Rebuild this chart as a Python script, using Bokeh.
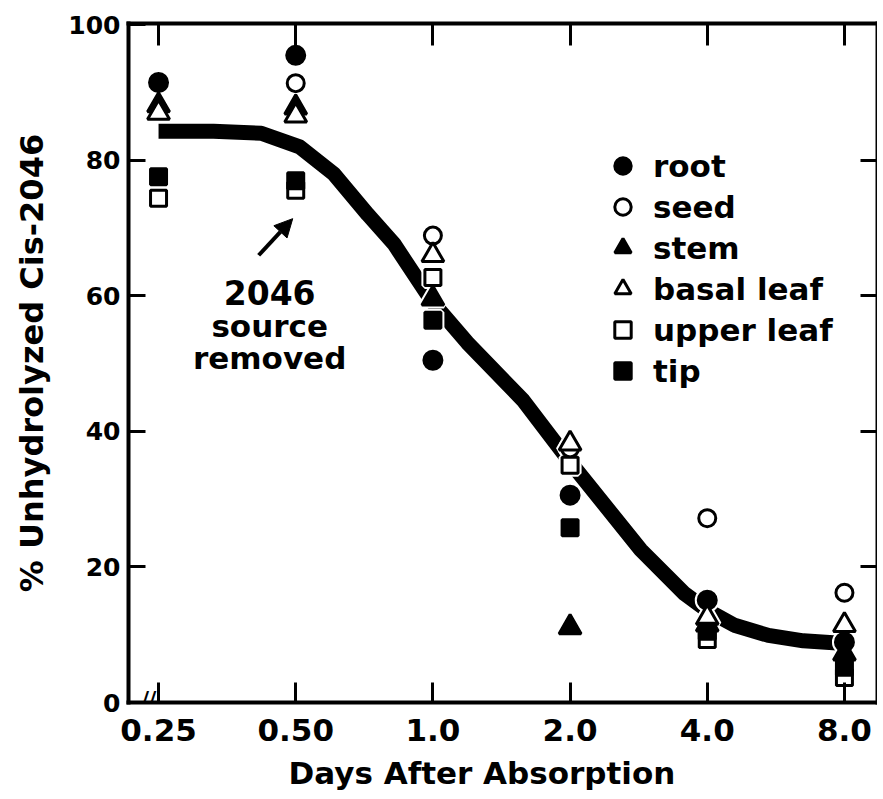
import numpy as np
from bokeh.plotting import figure
from bokeh.models import (LinearAxis, FixedTicker, Range1d, Label, Arrow,
                          NormalHead, Legend, LegendItem, Title)
from bokeh.embed import file_html
from bokeh.resources import INLINE

# ---------------- data ----------------
days = [0.25, 0.5, 1.0, 2.0, 4.0, 8.0]
day_labels = ["0.25", "0.50", "1.0", "2.0", "4.0", "8.0"]
y_ticks = [0, 20, 40, 60, 80, 100]

root = [91.5, 95.5, 50.5, 30.6, 15.1, 8.9]
seed = [np.nan, 91.4, 68.9, 37.5, 27.2, 16.2]
stem = [88.1, 87.8, 59.6, 11.1, 11.5, 7.2]
basal_leaf = [87.0, 86.6, 66.0, 38.2, 12.5, 11.4]
upper_leaf = [74.4, 75.6, 62.7, 35.0, 9.3, 3.7]
tip = [77.6, 77.0, 56.4, 25.8, 10.5, 5.2]

curve_days = [0.25, 0.33, 0.42, 0.51, 0.606, 0.72, 0.821, 1.0, 1.19, 1.577,
              2.0, 2.86, 3.56, 4.0, 4.59, 5.45, 6.5, 8.0]
curve_vals = [84.3, 84.3, 84.0, 82.0, 78.0, 72.0, 67.7, 59.0, 53.1, 44.6,
              35.5, 22.5, 16.1, 13.6, 11.4, 9.9, 9.1, 8.7]

xs = np.log2(days)
cxs = np.log2(curve_days)

FONT = "DejaVu Sans"

p = figure(frame_width=749, frame_height=679, output_backend="svg",
           toolbar_location=None,
           x_range=Range1d(-2.219, 3.241), y_range=Range1d(0, 100.2),
           min_border_left=128, min_border_right=0, min_border_top=23,
           min_border_bottom=97)
p.background_fill_color = "white"
p.border_fill_color = "white"
p.outline_line_color = None
p.xgrid.visible = False
p.ygrid.visible = False

# curve
p.line(cxs, curve_vals, line_width=15, line_color="black", line_join="round",
       line_cap="butt")

series = [
    ("root", root, "circle", 18, "black"),
    ("seed", seed, "circle", 17, "white"),
    ("stem", stem, "triangle", 22, "black"),
    ("basal leaf", basal_leaf, "triangle", 22, "white"),
    ("upper leaf", upper_leaf, "square", 16, "white"),
    ("tip", tip, "square", 16, "black"),
]

# white halos
for name, vals, m, s, fc in series:
    p.scatter(xs, vals, marker=m, size=s, fill_color="white",
              line_color="white", line_width=7)

renderers = {}
for name, vals, m, s, fc in series:
    r = p.scatter(xs, vals, marker=m, size=s, fill_color=fc,
                  line_color="black", line_width=3)
    renderers[name] = r

legend = Legend(items=[LegendItem(label=n, renderers=[renderers[n]]) for n, *_ in series],
                location=(474, 311), border_line_alpha=0, background_fill_alpha=0,
                padding=0, margin=0, spacing=0, glyph_height=41, glyph_width=41,
                label_height=41, label_standoff=10, label_text_font_size="31px",
                label_text_font=FONT, label_text_font_style="bold",
                label_text_color="black", label_text_baseline="middle")
p.add_layout(legend)

# axes
xb = p.xaxis[0]
xb.ticker = FixedTicker(ticks=list(xs))
xb.major_label_overrides = {int(v): l for v, l in zip(xs, day_labels)}
xb.major_label_text_font = FONT
xb.major_label_text_font_style = "bold"
xb.major_label_text_font_size = "31px"
xb.major_label_text_color = "black"
xb.major_label_standoff = 16
xb.major_tick_in = 20

yl = p.yaxis[0]
yl.ticker = FixedTicker(ticks=y_ticks)
yl.major_label_text_font = FONT
yl.major_label_text_font_style = "bold"
yl.major_label_text_font_size = "25px"
yl.major_label_text_color = "black"
yl.major_label_standoff = 8
yl.major_tick_in = 17
yl.axis_label = "% Unhydrolyzed Cis-2046"
yl.axis_label_text_font = FONT
yl.axis_label_text_font_style = "bold"
yl.axis_label_text_font_size = "32px"
yl.axis_label_text_color = "black"
yl.axis_label_standoff = 14

top = LinearAxis(ticker=FixedTicker(ticks=list(xs)), major_label_text_font_size="1px",
                 major_label_text_color=None, major_label_standoff=0)
top.major_tick_in = 22
right = LinearAxis(ticker=FixedTicker(ticks=[20, 40, 60, 80]),
                   major_label_text_font_size="1px", major_label_text_color=None,
                   major_label_standoff=0)
right.major_tick_in = 17
p.add_layout(top, "above")
p.add_layout(right, "right")

for ax in [xb, yl, top, right]:
    ax.axis_line_width = 4
    ax.axis_line_color = "black"
    ax.axis_line_cap = "square"
    ax.major_tick_line_width = 3
    ax.major_tick_line_color = "black"
    ax.major_tick_out = 0
    ax.minor_tick_in = 0
    ax.minor_tick_out = 0

# x axis title (as a title below the axis, shifted left like the original)
p.add_layout(Title(text="Days After Absorption", text_font=FONT, text_font_style="bold",
                   text_font_size="31px", text_color="black", align="left",
                   offset=160, standoff=18), "below")

# annotation
for txt, ty, fs in [("2046", 60.5, "33px"), ("source", 55.6, "31px"), ("removed", 50.8, "31px")]:
    p.add_layout(Label(x=-1.19, y=ty, text=txt, text_font=FONT, text_font_style="bold",
                       text_font_size=fs, text_color="black", text_align="center",
                       text_baseline="middle"))

p.add_layout(Arrow(end=NormalHead(size=18, fill_color="black", line_color="black"),
                   x_start=-1.27, y_start=66, x_end=-1.022, y_end=71.4,
                   line_width=4, line_color="black"))

# axis break mark
p.add_layout(Label(x=-2.07, y=0.6, text="//", text_font=FONT, text_font_style="bold",
                   text_font_size="20px", text_color="black", text_align="center",
                   text_baseline="middle"))

open("out.html", "w").write(file_html(p, INLINE))
